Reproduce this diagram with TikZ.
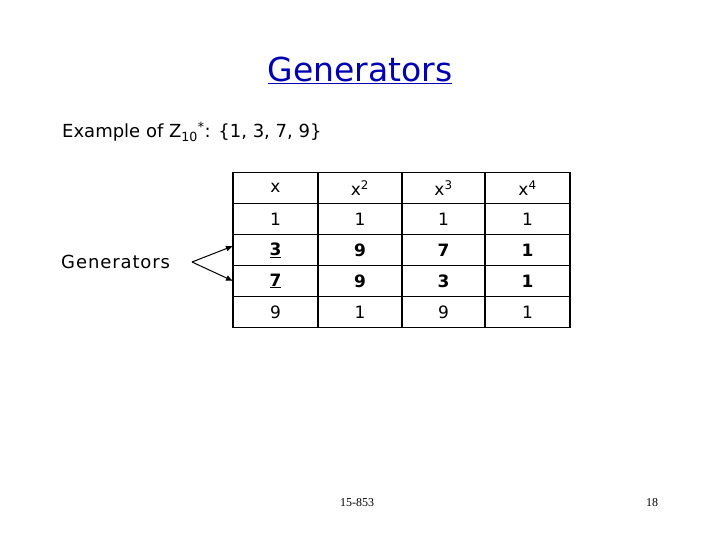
\documentclass[tikz,border=0pt]{standalone}
\usepackage{fontspec}
\usetikzlibrary{arrows.meta}
\setmainfont{DejaVu Sans}
\newfontfamily\seriff{Liberation Serif}
\begin{document}
\begin{tikzpicture}[x=1pt,y=-1pt,
  cell/.style={font=\fontsize{17}{20}\selectfont},
  bcell/.style={font=\fontsize{17}{20}\selectfont\bfseries},
  garrow/.style={-{Latex[length=7pt,width=6pt]},line width=1pt}]
\useasboundingbox (0,0) rectangle (720,540);
\node[font=\fontsize{33}{38}\selectfont,text=blue!70!black] (title) at (360,70) {\underline{Generators}};
\node[anchor=west,font=\fontsize{18}{22}\selectfont,inner sep=0pt] (ex) at (62,132) {Example of Z\textsubscript{10}\textsuperscript{*}: \{1, 3, 7, 9\}};
\foreach \y in {172.5,203.5,234.5,265.5,296.5,327.5} \draw[line width=1.5pt] (233,\y) -- (570,\y);
\foreach \x in {233,318,402,485,570} \draw[line width=1.5pt] (\x,172.5) -- (\x,327.5);
\node[cell] (h1) at (275.5,188) {x};
\node[cell] (h2) at (360,188) {x\textsuperscript{2}};
\node[cell] (h3) at (443.5,188) {x\textsuperscript{3}};
\node[cell] (h4) at (527.5,188) {x\textsuperscript{4}};
\node[cell] at (275.5,219) {1};\node[cell] at (360,219) {1};\node[cell] at (443.5,219) {1};\node[cell] at (527.5,219) {1};
\node[bcell] (g3) at (275.5,250) {\underline{3}};\node[bcell] at (360,250) {9};\node[bcell] at (443.5,250) {7};\node[bcell] at (527.5,250) {1};
\node[bcell] (g7) at (275.5,281) {\underline{7}};\node[bcell] at (360,281) {9};\node[bcell] at (443.5,281) {3};\node[bcell] at (527.5,281) {1};
\node[cell] at (275.5,312) {9};\node[cell] at (360,312) {1};\node[cell] at (443.5,312) {9};\node[cell] at (527.5,312) {1};
\node[anchor=west,font=\fontsize{18}{20}\selectfont,inner sep=0pt] (gen) at (61,262) {\addfontfeatures{LetterSpace=5}Generators};
\coordinate (a0) at (192,262);
\coordinate (a1) at (233,246);
\coordinate (a2) at (233,281);
\draw[garrow] (a0) -- (a1);
\draw[garrow] (a0) -- (a2);
\node[font=\seriff\fontsize{12}{14}\selectfont] (f1) at (357,503) {15-853};
\node[font=\seriff\fontsize{12}{14}\selectfont] (f2) at (652,503) {18};
\end{tikzpicture}
\end{document}
